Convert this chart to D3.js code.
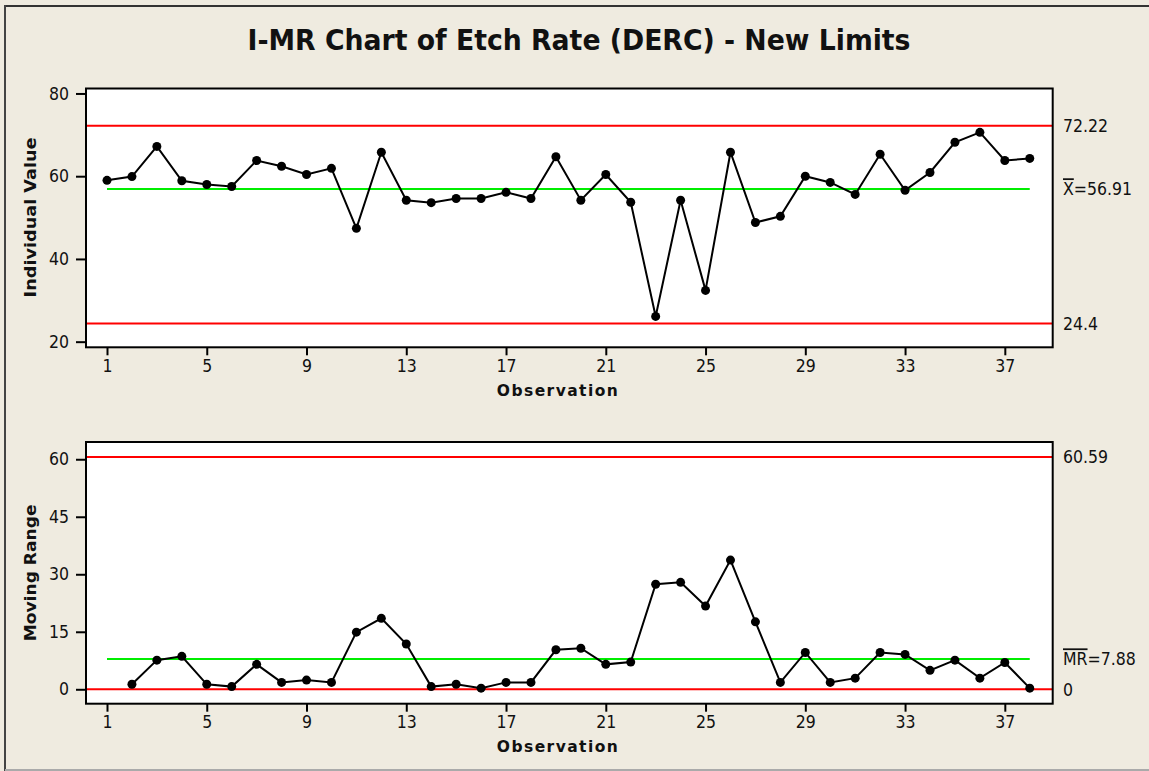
<!DOCTYPE html>
<html>
<head>
<meta charset="utf-8">
<script src="https://cdn.jsdelivr.net/npm/d3@7"></script>
<style>
  html, body { margin: 0; padding: 0; background: #efebe0; }
  svg text { font-family: "DejaVu Sans Condensed", "DejaVu Sans", sans-serif; font-stretch: condensed; fill: #111; }
  svg text.axis-title { font-family: "DejaVu Sans", sans-serif; font-stretch: normal; }
</style>
</head>
<body>
<svg id="chart" width="1149" height="771"></svg>
<script>
const obs = d3.range(1, 39);
const individual = [59.0, 59.9, 67.2, 58.9, 58.0, 57.5, 63.8, 62.4, 60.4, 61.9,
  47.4, 65.8, 54.2, 53.6, 54.6, 54.6, 56.1, 54.6, 64.7, 54.2,
  60.4, 53.7, 26.1, 54.2, 32.4, 65.8, 48.8, 50.3, 60.0, 58.5,
  55.6, 65.3, 56.6, 60.9, 68.2, 70.6, 63.8, 64.3];
const movingRange = [null, 1.3, 7.6, 8.6, 1.3, 0.7, 6.5, 1.8, 2.4, 1.8,
  14.9, 18.5, 11.8, 0.7, 1.3, 0.3, 1.8, 1.8, 10.3, 10.7,
  6.5, 7.1, 27.4, 27.9, 21.7, 33.7, 17.6, 1.8, 9.6, 1.8,
  2.9, 9.6, 9.1, 4.95, 7.6, 2.9, 7.0, 0.3];
const xTicks = [1, 5, 9, 13, 17, 21, 25, 29, 33, 37];
const iTicks = [20, 40, 60, 80];
const mrTicks = [0, 15, 30, 45, 60];
const iLimits = { ucl: 72.22, center: 56.91, lcl: 24.4 };
const mrLimits = { ucl: 60.59, center: 7.88, lcl: 0 };

const svg = d3.select('#chart');
const left = 86, right = 1052.7;

// outer border (top/left dark, bottom light)
svg.append('line').attr('x1', 5).attr('x2', 1149).attr('y1', 6).attr('y2', 6)
  .attr('stroke', '#333').attr('stroke-width', 2);
svg.append('line').attr('x1', 5).attr('x2', 5).attr('y1', 5).attr('y2', 771)
  .attr('stroke', '#444').attr('stroke-width', 2);
svg.append('line').attr('x1', 5).attr('x2', 1149).attr('y1', 770).attr('y2', 770)
  .attr('stroke', '#aaa').attr('stroke-width', 2);

svg.append('text')
  .attr('x', 579).attr('y', 50)
  .attr('text-anchor', 'middle')
  .attr('font-size', 29).attr('font-weight', 'bold')
  .attr('textLength', 663).attr('lengthAdjust', 'spacingAndGlyphs')
  .text('I-MR Chart of Etch Rate (DERC) - New Limits');

const x = d3.scaleLinear().domain([0.158, 38.92]).range([left, right]);

function panel(opts) {
  const { top, bottom, domain, ticks, values, limits, yLabel, labelLen, centerLabel } = opts;
  const y = d3.scaleLinear().domain(domain).range([bottom, top]);
  const g = svg.append('g');

  g.append('rect')
    .attr('x', left).attr('y', top)
    .attr('width', right - left).attr('height', bottom - top)
    .attr('fill', '#fff');

  // limit lines
  [limits.ucl, limits.lcl].forEach(v => {
    g.append('line')
      .attr('x1', left).attr('x2', right)
      .attr('y1', y(v)).attr('y2', y(v))
      .attr('stroke', '#ff0000').attr('stroke-width', 2);
  });
  g.append('line')
    .attr('x1', x(1)).attr('x2', x(38))
    .attr('y1', y(limits.center)).attr('y2', y(limits.center))
    .attr('stroke', '#00ee00').attr('stroke-width', 2);

  const pts = obs.map((o, i) => ({ o, v: values[i] })).filter(d => d.v !== null);
  g.append('path')
    .datum(pts)
    .attr('fill', 'none').attr('stroke', '#000').attr('stroke-width', 2)
    .attr('d', d3.line().x(d => x(d.o)).y(d => y(d.v)));
  g.selectAll('circle.pt')
    .data(pts)
    .join('circle')
    .attr('class', 'pt')
    .attr('cx', d => x(d.o)).attr('cy', d => y(d.v))
    .attr('r', 4.5).attr('fill', '#000');

  g.append('rect')
    .attr('x', left).attr('y', top)
    .attr('width', right - left).attr('height', bottom - top)
    .attr('fill', 'none').attr('stroke', '#000').attr('stroke-width', 2);

  const yAxis = g.append('g')
    .attr('transform', `translate(${left},0)`)
    .call(d3.axisLeft(y).tickValues(ticks).tickSize(10).tickPadding(7));
  const xAxis = g.append('g')
    .attr('transform', `translate(0,${bottom})`)
    .call(d3.axisBottom(x).tickValues(xTicks).tickSize(8).tickPadding(4));
  [yAxis, xAxis].forEach(a => {
    a.select('.domain').remove();
    a.selectAll('line').attr('stroke', '#000').attr('stroke-width', 2);
    a.selectAll('text').attr('font-size', 17.5).attr('font-family', null).attr('fill', '#111');
  });

  g.append('text')
    .attr('class', 'axis-title')
    .attr('x', (left + right) / 2 - 12).attr('y', bottom + 48.5)
    .attr('text-anchor', 'middle')
    .attr('font-size', 15.5).attr('font-weight', 'bold')
    .attr('textLength', 121).attr('lengthAdjust', 'spacing')
    .text('Observation');

  const cy = (top + bottom) / 2;
  g.append('text')
    .attr('class', 'axis-title')
    .attr('transform', `translate(36,${cy + opts.labelShift}) rotate(-90)`)
    .attr('text-anchor', 'middle')
    .attr('font-size', 15.5).attr('font-weight', 'bold')
    .attr('textLength', labelLen).attr('lengthAdjust', 'spacingAndGlyphs')
    .text(yLabel);

  // right side labels
  const rl = (v, node) => {
    const t = g.append('text').attr('x', 1063).attr('y', y(v)).attr('dy', '0.36em').attr('font-size', 17.5);
    node(t);
  };
  rl(limits.ucl, t => t.text(String(limits.ucl)));
  rl(limits.center, t => {
    t.append('tspan').attr('text-decoration', 'overline').text(centerLabel);
    t.append('tspan').text('=' + limits.center);
  });
  rl(limits.lcl, t => t.text(String(limits.lcl)));
}

panel({
  top: 88.5, bottom: 347.3, domain: [18.64, 81.2], ticks: iTicks,
  values: individual, limits: iLimits, yLabel: 'Individual Value', labelLen: 160,
  centerLabel: 'X', labelShift: -0.5
});
panel({
  top: 442, bottom: 703.7, domain: [-3.76, 64.5], ticks: mrTicks,
  values: movingRange, limits: mrLimits, yLabel: 'Moving Range', labelLen: 137,
  centerLabel: 'MR', labelShift: 0
});
</script>
</body>
</html>
